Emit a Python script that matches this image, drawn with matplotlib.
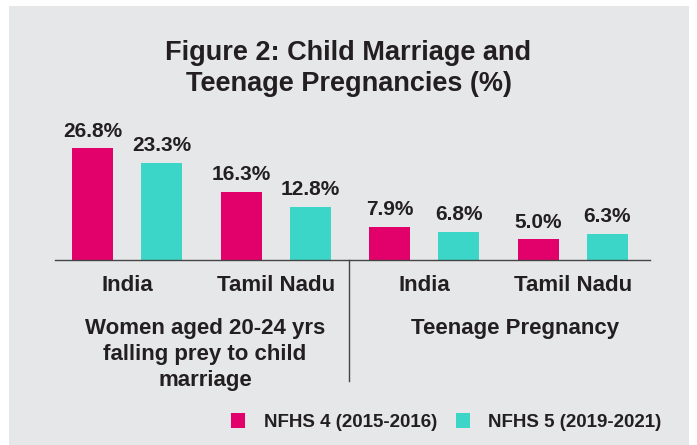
import matplotlib
matplotlib.use('Agg')
import matplotlib.pyplot as plt
from matplotlib.patches import Rectangle
import numpy as np

# data
categories = ['India', 'Tamil Nadu', 'India', 'Tamil Nadu']
groups = ['Women aged 20-24 yrs\nfalling prey to child\nmarriage', 'Teenage Pregnancy']
nfhs4 = [26.8, 16.3, 7.9, 5.0]
nfhs5 = [23.3, 12.8, 6.8, 6.3]
series_names = ['NFHS 4 (2015-2016)', 'NFHS 5 (2019-2021)']

pink = '#E2006A'
teal = '#3BD6C8'
txt = '#231F20'
bg = '#E6E7E9'

plt.rcParams['font.family'] = ['Liberation Sans', 'DejaVu Sans']
plt.rcParams['font.weight'] = 'bold'

W, H = 697, 445
fig = plt.figure(figsize=(W / 100, H / 100), dpi=100)
fig.patch.set_facecolor('white')
# grey panel
fig.patches.append(Rectangle((9 / W, 0), 680 / W, (H - 6) / H, transform=fig.transFigure,
                             facecolor=bg, edgecolor='none', zorder=-5))

# axes: baseline at y=260px, x from 55 to 650px
ax = fig.add_axes([55 / W, (H - 260) / H, 595 / W, 160 / H])
ax.set_zorder(2)
ax.patch.set_alpha(0)
x = np.arange(len(categories))
off = 0.232
w = 0.276
b1 = ax.bar(x - off, nfhs4, w, color=pink, label=series_names[0])
b2 = ax.bar(x + off, nfhs5, w, color=teal, label=series_names[1])
for bars, vals in ((b1, nfhs4), (b2, nfhs5)):
    for r, v in zip(bars, vals):
        ax.annotate(f'{v:.1f}%', (r.get_x() + r.get_width() / 2, v), xytext=(0, 5.5),
                    textcoords='offset points', ha='center', va='bottom',
                    fontsize=15, fontweight='bold', color=txt)
ax.set_xlim(-0.485, 3.52)
ax.set_ylim(0, 160 / 4.17)
ax.set_yticks([])
ax.set_xticks(x)
ax.set_xticklabels(categories, fontsize=16, fontweight='bold', color=txt)
ax.tick_params(axis='x', length=0, pad=11)
for s in ['top', 'right', 'left']:
    ax.spines[s].set_visible(False)
ax.spines['bottom'].set_color('#444444')
ax.spines['bottom'].set_linewidth(1.0)

# divider
ax.plot([1.495, 1.495], [0, -29], color='#444444', lw=1.0, clip_on=False)

# group labels
for gx, g in zip([0.525, 2.61], groups):
    ax.text(gx, -14.0, g, ha='center', va='top', fontsize=16,
            fontweight='bold', color=txt, linespacing=1.3)

fig.text(0.5, 0.91, 'Figure 2: Child Marriage and\nTeenage Pregnancies (%)', ha='center', va='top',
         fontsize=19.5, fontweight='bold', color=txt, linespacing=1.25)

ax.legend(loc='center left', bbox_to_anchor=(214 / W, 23 / H), bbox_transform=fig.transFigure,
          ncol=2, frameon=False, handlelength=0.75, handleheight=0.8, handletextpad=1.0,
          columnspacing=1.0, prop={'size': 13.5, 'weight': 'bold'}, labelcolor=txt)

fig.savefig('out.png', dpi=100)
